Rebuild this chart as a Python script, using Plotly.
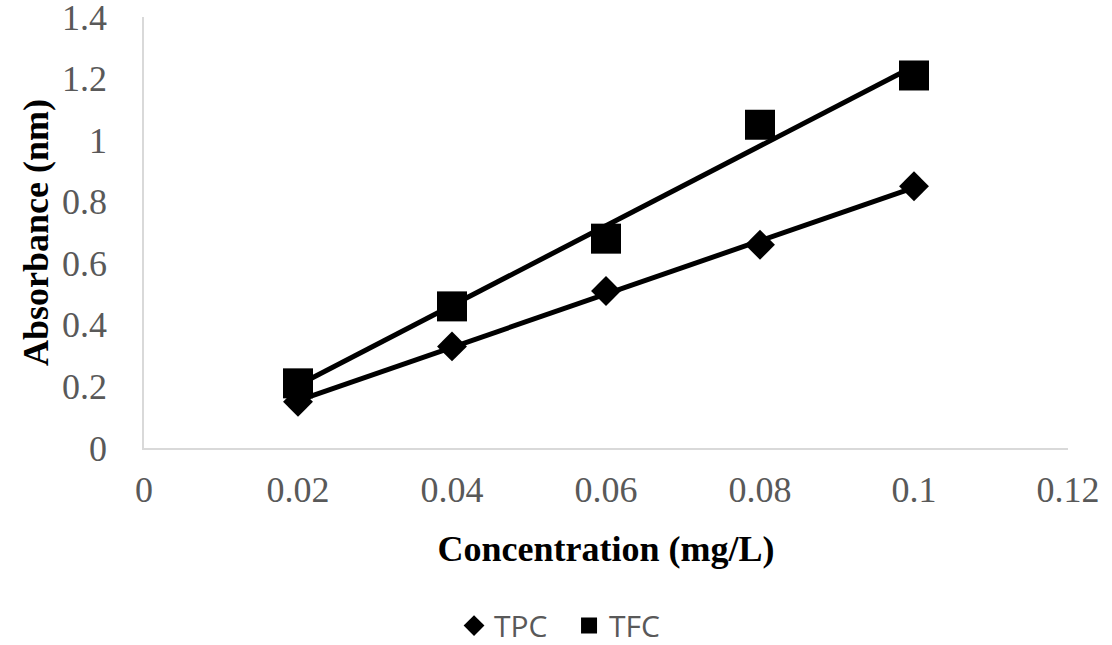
import numpy as np
import plotly.graph_objects as go

concentration = [0.02, 0.04, 0.06, 0.08, 0.10]
tpc = [0.15, 0.33, 0.51, 0.66, 0.85]
tfc = [0.21, 0.46, 0.68, 1.05, 1.21]

x_ticks = [0, 0.02, 0.04, 0.06, 0.08, 0.10, 0.12]
y_ticks = [0, 0.2, 0.4, 0.6, 0.8, 1.0, 1.2, 1.4]

fig = go.Figure()

# linear trendlines (least squares fit of each series)
for name, vals in [("TPC", tpc), ("TFC", tfc)]:
    k, b = np.polyfit(concentration, vals, 1)
    xs = [concentration[0], concentration[-1]]
    fig.add_trace(go.Scatter(
        x=xs, y=[k * v + b for v in xs], mode="lines",
        line=dict(color="black", width=5), showlegend=False, hoverinfo="skip"))

fig.add_trace(go.Scatter(
    x=concentration, y=tpc, mode="markers", name="TPC",
    marker=dict(symbol="diamond", size=23, color="black")))
fig.add_trace(go.Scatter(
    x=concentration, y=tfc, mode="markers", name="TFC",
    marker=dict(symbol="square", size=30, color="black")))

tick_font = dict(family="Liberation Serif", size=36, color="#595959")
title_font = dict(family="Liberation Serif", size=36, color="black")

fig.update_layout(
    width=1112, height=645,
    margin=dict(l=144, r=44, t=17, b=197, autoexpand=False),
    paper_bgcolor="white", plot_bgcolor="white",
    showlegend=True,
    legend=dict(orientation="h", x=0.46, xanchor="center", y=-0.412, yanchor="middle",
                font=dict(family="Open Sans", size=30, color="#595959"),
                entrywidth=70, tracegroupgap=0),
    xaxis=dict(range=[0, 0.12], tickvals=x_ticks, showgrid=False, zeroline=False,
               showline=True, linecolor="#d9d9d9", linewidth=1.5,
               tickfont=tick_font, ticklabelstandoff=9, ticklabeloverflow="allow",
               title=dict(text="<b>Concentration (mg/L)</b>", font=title_font, standoff=27)),
    yaxis=dict(range=[0, 1.4], tickvals=y_ticks, showgrid=False, zeroline=False,
               showline=True, linecolor="#d9d9d9", linewidth=1.5,
               tickfont=tick_font, ticklabelstandoff=28, ticklabeloverflow="allow",
               title=dict(text="<b>Absorbance (nm)</b>", font=title_font, standoff=2)),
)

fig.write_html("out.html", config={"displayModeBar": False},
               post_script="document.body.style.margin='0px';")
